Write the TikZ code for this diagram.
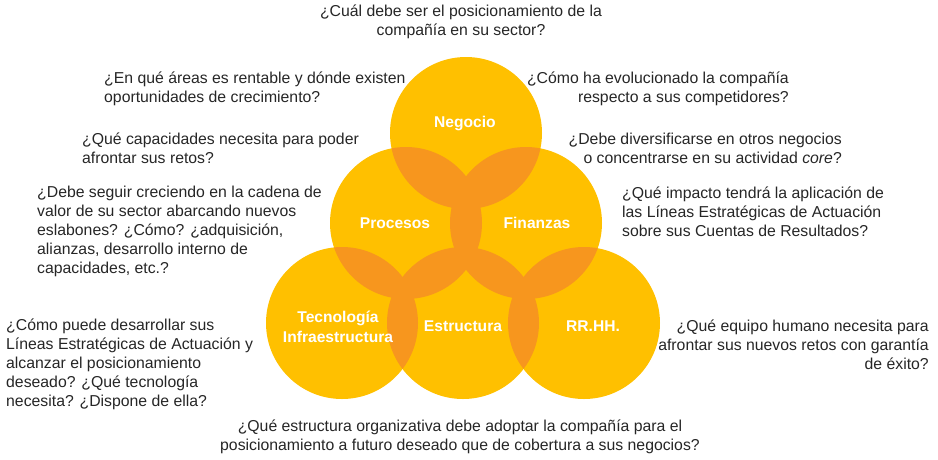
\documentclass[tikz,border=0pt]{standalone}
\usepackage{fontspec}
\setmainfont{Liberation Sans}
\definecolor{gold}{RGB}{255,192,0}
\definecolor{amber}{RGB}{247,150,30}
\definecolor{ink}{RGB}{38,38,38}
\begin{document}
\begin{tikzpicture}[x=1pt,y=-1pt,
  q/.style={font=\fontsize{15.8}{19}\selectfont,text=ink,inner sep=0pt},
  lab/.style={font=\fontsize{15.6}{20}\selectfont\bfseries,text=white,inner sep=0pt,align=center}]
\useasboundingbox (0,0) rectangle (938,459);
% circle centres
\foreach \n/\x/\y in {neg/466/133,pro/406/223,fin/526/223,tec/342/323,est/463/323,rrh/584/323}{\coordinate (\n) at (\x,\y);}
\foreach \n in {neg,pro,fin,tec,est,rrh}{\fill[gold] (\n) circle (76pt);}
% overlaps
\foreach \a/\b in {neg/pro,neg/fin,pro/fin,pro/tec,pro/est,fin/est,fin/rrh,tec/est,est/rrh}{
  \begin{scope}\clip (\a) circle (76pt);\fill[amber] (\b) circle (76pt);\end{scope}}
\node[lab] (lneg) at (465,123) {Negocio};
\node[lab] (lpro) at (395,223) {Procesos};
\node[lab] (lfin) at (537,223) {Finanzas};
\node[lab] (ltec) at (338,327) {Tecnología\\Infraestructura};
\node[lab] (lest) at (463,326) {Estructura};
\node[lab] (lrrh) at (593,326) {RR.HH.};
% questions
\node[q,align=center] (q1) at (461,22) {¿Cuál debe ser el posicionamiento de la\\compañía en su sector?};
\node[q,align=left,anchor=west] (q2) at (104,88.5) {¿En qué áreas es rentable y dónde existen\\oportunidades de crecimiento?};
\node[q,align=left,anchor=west] (q3) at (82,148.5) {¿Qué capacidades necesita para poder\\afrontar sus retos?};
\node[q,align=left,anchor=west] (q4) at (37,231) {¿Debe seguir creciendo en la cadena de\\valor de su sector abarcando nuevos\\eslabones? ¿Cómo? ¿adquisición,\\alianzas, desarrollo interno de\\capacidades, etc.?};
\node[q,align=left,anchor=west] (q5) at (6,364) {¿Cómo puede desarrollar sus\\Líneas Estratégicas de Actuación y\\alcanzar el posicionamiento\\deseado? ¿Qué tecnología\\necesita? ¿Dispone de ella?};
\node[q,align=center] (q6) at (460,437) {¿Qué estructura organizativa debe adoptar la compañía para el\\posicionamiento a futuro deseado que de cobertura a sus negocios?};
\node[q,align=right,anchor=east] (q7) at (789,88.5) {¿Cómo ha evolucionado la compañía\\respecto a sus competidores?};
\node[q,align=right,anchor=east] (q8) at (842,148.5) {¿Debe diversificarse en otros negocios\\o concentrarse en su actividad \textit{core}?};
\node[q,align=left,anchor=west] (q9) at (622,212) {¿Qué impacto tendrá la aplicación de\\las Líneas Estratégicas de Actuación\\sobre sus Cuentas de Resultados?};
\node[q,align=right,anchor=east] (q10) at (929,345) {¿Qué equipo humano necesita para\\afrontar sus nuevos retos con garantía\\de éxito?};
\end{tikzpicture}
\end{document}
